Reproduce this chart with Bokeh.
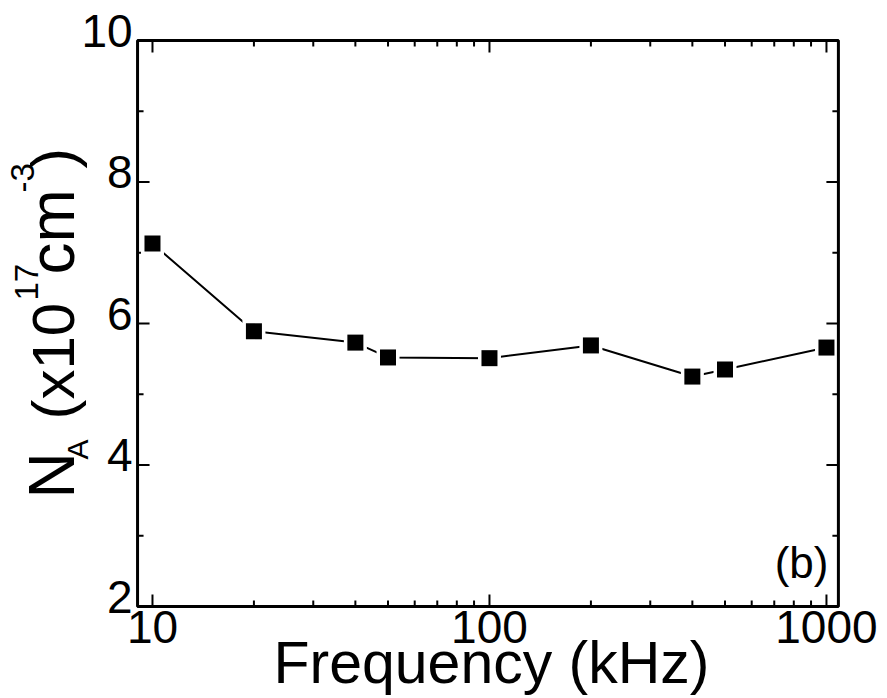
import math

from bokeh.core.properties import value
from bokeh.embed import file_html
from bokeh.models import BoxAnnotation, ColumnDataSource, LabelSet
from bokeh.plotting import figure
from bokeh.resources import INLINE

# Acceptor concentration vs. measurement frequency
freq_khz = [10, 20, 40, 50, 100, 200, 400, 500, 1000]
na_1e17 = [7.13, 5.89, 5.73, 5.52, 5.51, 5.69, 5.25, 5.35, 5.66]

x_major = [10, 100, 1000]
x_minor = [20, 30, 40, 50, 60, 70, 80, 90, 200, 300, 400, 500, 600, 700, 800, 900]
x_tick_text = ["10", "100", "1000"]
y_major = [2, 4, 6, 8, 10]
y_minor = [3, 5, 7, 9]
y_tick_text = ["2", "4", "6", "8", "10"]

# axes box (data units)
X_LO, X_HI = 9.03, 1085.0
Y_LO, Y_HI = 2.0, 10.0

FONT = "Liberation Sans"
W, H = 887, 698

# The figure's frame spans the whole canvas; the axes box is drawn inside it
# so that every title and tick label can sit freely around it.
VIEW_X = (3.540, 1517.5)
VIEW_Y = (0.6997, 10.5654)

p = figure(width=W, height=H, x_axis_type="log",
           x_range=VIEW_X, y_range=VIEW_Y,
           x_axis_location=None, y_axis_location=None,
           output_backend="svg", toolbar_location=None,
           min_border=0, min_border_left=0, min_border_right=0,
           min_border_top=0, min_border_bottom=0)
p.xgrid.visible = False
p.ygrid.visible = False
p.outline_line_color = None
p.background_fill_color = "white"
p.border_fill_color = "white"

# pixel scale of the view, used for tick lengths
px_per_decade = W / (math.log10(VIEW_X[1]) - math.log10(VIEW_X[0]))
px_per_unit = H / (VIEW_Y[1] - VIEW_Y[0])


def ticks(xs, ys, length):
    """Inward ticks on all four sides of the axes box."""
    dy = length / px_per_unit
    fx = 10 ** (length / px_per_decade)
    x0, y0, x1, y1 = [], [], [], []
    for x in xs:
        x0 += [x, x]
        x1 += [x, x]
        y0 += [Y_LO, Y_HI]
        y1 += [Y_LO + dy, Y_HI - dy]
    for y in ys:
        y0 += [y, y]
        y1 += [y, y]
        x0 += [X_LO, X_HI]
        x1 += [X_LO * fx, X_HI / fx]
    return dict(x0=x0, y0=y0, x1=x1, y1=y1)


p.segment("x0", "y0", "x1", "y1", source=ColumnDataSource(ticks(x_major, y_major, 12)),
          line_color="black", line_width=2)
p.segment("x0", "y0", "x1", "y1", source=ColumnDataSource(ticks(x_minor, y_minor, 6)),
          line_color="black", line_width=2)
p.add_layout(BoxAnnotation(left=X_LO, right=X_HI, bottom=Y_LO, top=Y_HI,
                           fill_color=None, fill_alpha=0,
                           line_color="black", line_alpha=1, line_width=3))

# data: line, white halo, black squares
src = ColumnDataSource(dict(f=freq_khz, n=na_1e17))
p.line("f", "n", source=src, line_color="black", line_width=2)
p.scatter("f", "n", source=src, marker="square", size=23,
          fill_color="white", line_color=None)
p.scatter("f", "n", source=src, marker="square", size=16,
          fill_color="black", line_color=None)

# tick labels
xt = ColumnDataSource(dict(v=x_major, t=x_tick_text))
p.add_layout(LabelSet(x="v", y=Y_LO, text="t", source=xt, y_offset=-36,
                      text_align="center", text_baseline="alphabetic",
                      text_font=value(FONT), text_font_size="46px",
                      text_color="black"))
yt = ColumnDataSource(dict(v=y_major, t=y_tick_text))
p.add_layout(LabelSet(x=X_LO, y="v", text="t", source=yt,
                      x_offset=-5, y_offset=-6,
                      text_align="right", text_baseline="alphabetic",
                      text_font=value(FONT), text_font_size="46px",
                      text_color="black"))

# titles (screen pixels from the canvas' bottom-left corner)
titles = ColumnDataSource(dict(
    text=["Frequency (kHz)", "(b)"],
    sx=[491, 828],
    sy=[16, 121],
    size=["59px", "44px"],
    align=["center", "right"],
))
p.add_layout(LabelSet(x="sx", y="sy", x_units="screen", y_units="screen",
                      text="text", source=titles, text_align="align",
                      text_baseline="alphabetic", text_font=value(FONT),
                      text_font_size="size", text_color="black"))

# y axis title, assembled from pieces for the sub/superscripts
ylabel = ColumnDataSource(dict(
    text=["N", "A", "(x10", "17", "cm", "-3", ")"],
    sx=[73, 87, 73, 37, 73, 33, 73],
    sy=[200, 239, 279, 398, 424, 506, 530],
    size=["64px", "30px", "60px", "33px", "64px", "33px", "62px"],
))
p.add_layout(LabelSet(x="sx", y="sy", x_units="screen", y_units="screen",
                      text="text", source=ylabel, angle=math.pi / 2,
                      angle_units="rad", text_align="left",
                      text_baseline="alphabetic", text_font=value(FONT),
                      text_font_size="size", text_color="black"))

open("out.html", "w").write(file_html(p, INLINE))
